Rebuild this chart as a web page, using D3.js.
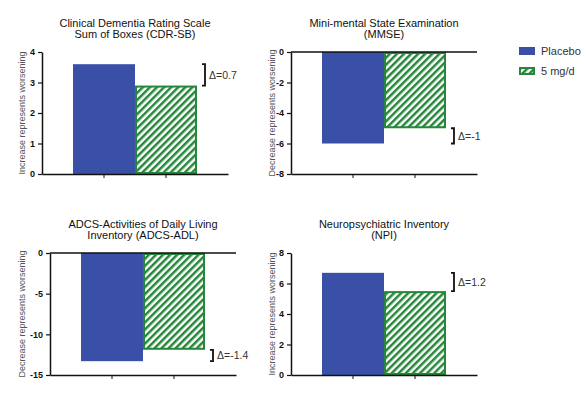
<!DOCTYPE html>
<html>
<head>
<meta charset="utf-8">
<script src="https://cdn.jsdelivr.net/npm/d3@7"></script>
<style>
  body { margin: 0; background: #fff; }
  svg { font-family: "Liberation Sans", Arial, sans-serif; }
</style>
</head>
<body>
<div id="chart"></div>
<script>
var groups = ['Placebo', '5 mg/d'];
var titles = [
  ['Clinical Dementia Rating Scale', 'Sum of Boxes (CDR-SB)'],
  ['Mini-mental State Examination', '(MMSE)'],
  ['ADCS-Activities of Daily Living', 'Inventory (ADCS-ADL)'],
  ['Neuropsychiatric Inventory', '(NPI)']
];
var yLabels = [
  'Increase represents worsening',
  'Decrease represents worsening',
  'Decrease represents worsening',
  'Increase represents worsening'
];
var placebo = [3.6, -6.0, -13.3, 6.7];
var drug = [2.9, -5.0, -11.9, 5.5];
var deltas = ['\u0394=0.7', '\u0394=-1', '\u0394=-1.4', '\u0394=1.2'];
var yDomains = [[0, 4], [-8, 0], [-15, 0], [0, 8]];
var yTicks = [[0, 1, 2, 3, 4], [-8, -6, -4, -2, 0], [-15, -10, -5, 0], [0, 2, 4, 6, 8]];

var width = 588, height = 397;
var blue = '#3a4fa6', green = '#24873a';
var plotW = 186, plotH = 122;
// top-left corner of each plot area
var origins = [[42, 52], [291, 52], [50, 253], [291, 253]];
var labelX = [22, 272, 22, 272];

var svg = d3.select('#chart').append('svg')
    .attr('width', width)
    .attr('height', height);

var defs = svg.append('defs');
defs.append('pattern')
    .attr('id', 'hatch')
    .attr('patternUnits', 'userSpaceOnUse')
    .attr('width', 5)
    .attr('height', 5)
    .attr('patternTransform', 'rotate(45)')
  .call(function(p) {
    p.append('rect').attr('width', 5).attr('height', 5).attr('fill', '#fff');
    p.append('line')
        .attr('x1', 1.25).attr('x2', 1.25)
        .attr('y1', 0).attr('y2', 5)
        .attr('stroke', green)
        .attr('stroke-width', 2.5);
  });

var x = d3.scaleBand()
    .domain(groups)
    .range([0, plotW])
    .paddingInner(0)
    .paddingOuter(0.5);

titles.forEach(function(t, i) {
  var g = svg.append('g')
      .attr('transform', 'translate(' + origins[i][0] + ',' + origins[i][1] + ')');

  var y = d3.scaleLinear()
      .domain(yDomains[i])
      .range([plotH, 0]);

  var vals = [placebo[i], drug[i]];

  // bars
  g.selectAll('rect.bar').data(vals)
    .enter().append('rect')
      .attr('class', 'bar')
      .attr('x', function(d, j) { return x(groups[j]) + (j === 1 ? 1 : 0); })
      .attr('width', function(d, j) { return x.bandwidth() - (j === 1 ? 2 : 0); })
      .attr('y', function(d, j) { return Math.min(y(d), y(0)) + (j === 1 ? 1 : 0); })
      .attr('height', function(d, j) { return Math.abs(y(d) - y(0)) - (j === 1 ? 2 : 0); })
      .attr('fill', function(d, j) { return j === 0 ? blue : 'url(#hatch)'; })
      .attr('stroke', function(d, j) { return j === 0 ? 'none' : green; })
      .attr('stroke-width', 2);

  // y axis
  var ya = g.append('g')
      .call(d3.axisLeft(y).tickValues(yTicks[i]).tickFormat(function(d) { return String(d); })
        .tickSize(4).tickSizeOuter(0).tickPadding(3));
  ya.select('.domain').attr('stroke', '#111').attr('stroke-width', 1.5);
  ya.selectAll('.tick line').attr('stroke', '#111').attr('stroke-width', 1.2);
  ya.selectAll('.tick text')
      .attr('font-size', 9)
      .attr('font-weight', 'bold')
      .attr('fill', '#111')
      .attr('font-family', '"Liberation Sans", Arial, sans-serif');

  // x axis at bottom
  var xa = g.append('g')
      .attr('transform', 'translate(0,' + plotH + ')')
      .call(d3.axisBottom(x).tickFormat('').tickSize(4).tickSizeOuter(0));
  xa.select('.domain').attr('stroke', '#111').attr('stroke-width', 1.5);
  xa.selectAll('.tick line').attr('stroke', '#111').attr('stroke-width', 1);

  // zero line for negative panels
  if (yDomains[i][1] === 0) {
    g.append('line')
        .attr('x1', 0).attr('x2', plotW)
        .attr('y1', y(0)).attr('y2', y(0))
        .attr('stroke', '#111')
        .attr('stroke-width', 1.5);
  }

  // difference bracket
  var bx = 163, y1 = y(placebo[i]), y2 = y(drug[i]);
  g.append('path')
      .attr('d', 'M' + (bx - 3) + ',' + y1 + 'H' + bx + 'V' + y2 + 'H' + (bx - 3))
      .attr('fill', 'none')
      .attr('stroke', '#111')
      .attr('stroke-width', 1.8);
  g.append('text')
      .attr('x', bx + 4)
      .attr('y', (y1 + y2) / 2)
      .attr('dy', '0.35em')
      .attr('font-size', 10.5)
      .attr('fill', '#333')
      .text(deltas[i]);

  // title
  t.forEach(function(line, k) {
    g.append('text')
        .attr('x', plotW / 2)
        .attr('y', -25 + k * 11)
        .attr('text-anchor', 'middle')
        .attr('font-size', 11)
        .attr('fill', '#111')
        .text(line);
  });

  // y label
  svg.append('text')
      .attr('transform', 'translate(' + labelX[i] + ',' + (origins[i][1] + plotH / 2) + ') rotate(-90)')
      .attr('text-anchor', 'middle')
      .attr('dy', '0.35em')
      .attr('font-size', 9)
      .attr('fill', '#555')
      .text(yLabels[i]);
});

// legend
var legend = svg.append('g').attr('transform', 'translate(519,47)');
groups.forEach(function(name, j) {
  legend.append('rect')
      .attr('x', j === 1 ? 1 : 0)
      .attr('y', j * 20 + (j === 1 ? 1 : 0))
      .attr('width', j === 1 ? 14 : 16)
      .attr('height', j === 1 ? 6 : 8)
      .attr('fill', j === 0 ? blue : 'url(#hatch)')
      .attr('stroke', j === 0 ? 'none' : green)
      .attr('stroke-width', 2);
  legend.append('text')
      .attr('x', 22)
      .attr('y', j * 20 + 4)
      .attr('dy', '0.35em')
      .attr('font-size', 11)
      .attr('fill', '#333')
      .text(name);
});
</script>
</body>
</html>
